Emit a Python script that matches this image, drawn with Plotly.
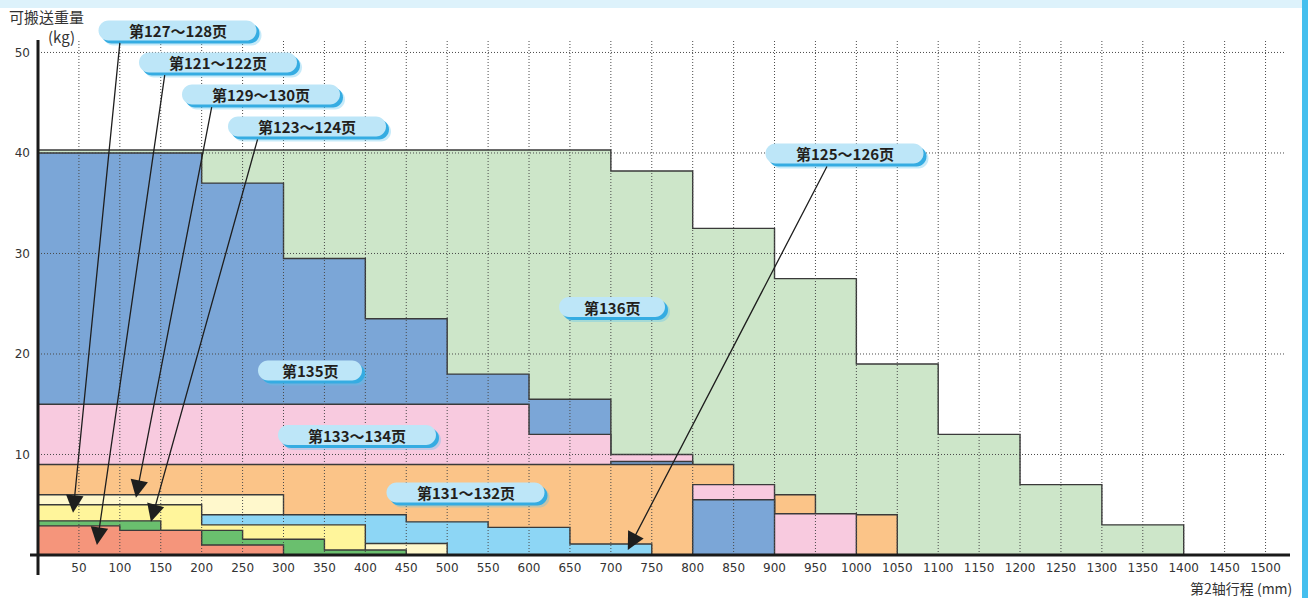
import plotly.graph_objects as go

# ---------------- data (stroke in mm, payload in kg) ----------------
x_ticks = [50, 100, 150, 200, 250, 300, 350, 400, 450, 500, 550, 600, 650, 700, 750,
           800, 850, 900, 950, 1000, 1050, 1100, 1150, 1200, 1250, 1300, 1350, 1400, 1450, 1500]
y_ticks = [10, 20, 30, 40, 50]

p136_edges = [0, 700, 800, 900, 1000, 1100, 1200, 1300, 1400]
p136_kg = [40.3, 38.2, 32.5, 27.5, 19, 12, 7, 3]

p135_edges = [0, 200, 300, 400, 500, 600, 700]
p135_kg = [40, 37, 29.5, 23.5, 18, 15.5]
p135_tail_edges = [700, 800]
p135_tail_kg = [9.3]
p135_tail2_edges = [800, 900]
p135_tail2_kg = [5.5]

p133_edges = [0, 600, 700, 800]
p133_kg = [15, 12, 10]
p133_tail_edges = [800, 900, 1000]
p133_tail_kg = [7, 4.1]

p131_edges = [0, 850]
p131_kg = [9]
p131_tail_edges = [900, 950, 1050]
p131_tail_kg = [6, 4]

p125_edges = [0, 450, 550, 650, 750]
p125_kg = [4.0, 3.3, 2.75, 1.1]

p129_edges = [0, 300]
p129_kg = [6.0]
p129_tail_edges = [300, 500]
p129_tail_kg = [1.15]

p127_edges = [0, 200, 400]
p127_kg = [5.0, 3.0]

p123_edges = [0, 150, 250, 350, 450]
p123_kg = [3.4, 2.45, 1.56, 0.5]

p121_edges = [0, 100, 200, 300]
p121_kg = [2.9, 2.45, 1.0]

# ---------------- style ----------------
C136 = "#cde6c9"
C135 = "#7ba6d7"
C133 = "#f8cadf"
C131 = "#fbc488"
C125 = "#8dd6f5"
C129 = "#fff8cc"
C127 = "#fff59b"
C123 = "#6abf6e"
C121 = "#f5957b"
EDGE = "#3a3a3a"

# layout geometry in pixels
L, R, T, B = 38, 22, 40, 43
W = 1308 - L - R
H = 598 - T - B
XMAX = 1525
YMAX = 51.24


def step_poly(edges, heights):
    xs = [edges[0]]
    ys = [0]
    for i, h in enumerate(heights):
        xs += [edges[i], edges[i + 1]]
        ys += [h, h]
    xs += [edges[-1], edges[0]]
    ys += [0, 0]
    return xs, ys


fig = go.Figure()

layers = [
    (p136_edges, p136_kg, C136),
    (p135_edges, p135_kg, C135),
    (p133_edges, p133_kg, C133),
    (p135_tail_edges, p135_tail_kg, C135),
    (p131_edges, p131_kg, C131),
    (p131_tail_edges, p131_tail_kg, C131),
    (p133_tail_edges, p133_tail_kg, C133),
    (p135_tail2_edges, p135_tail2_kg, C135),
    (p129_edges, p129_kg, C129),
    (p125_edges, p125_kg, C125),
    (p129_tail_edges, p129_tail_kg, C129),
    (p127_edges, p127_kg, C127),
    (p123_edges, p123_kg, C123),
    (p121_edges, p121_kg, C121),
]
for edges, kg, col in layers:
    xs, ys = step_poly(edges, kg)
    fig.add_trace(go.Scatter(x=xs, y=ys, mode="lines", fill="toself", fillcolor=col,
                             line=dict(color=EDGE, width=1.4), hoverinfo="skip",
                             showlegend=False))

shapes = []
# dotted grid above the fills
GRID = dict(color="#4a4a4a", width=1, dash="1px,2px")
for xv in x_ticks:
    shapes.append(dict(type="line", xref="x", yref="paper", x0=xv, x1=xv, y0=0, y1=1,
                       line=GRID, layer="above"))
for yv in y_ticks:
    shapes.append(dict(type="line", xref="paper", yref="y", x0=0, x1=0.999, y0=yv, y1=yv,
                       line=GRID, layer="above"))


def px2paper(px, py):
    return (px - L) / W, (598 - B - py) / H


def pill_path(cx, cy, w, h):
    r = h / 2.0
    k = 0.5523 * r
    x0 = cx - w / 2 + r
    x1 = cx + w / 2 - r
    top, bot = cy - h / 2, cy + h / 2
    pts = [
        ("M", [(x0, top)]),
        ("L", [(x1, top)]),
        ("C", [(x1 + k, top), (x1 + r, cy - k), (x1 + r, cy)]),
        ("C", [(x1 + r, cy + k), (x1 + k, bot), (x1, bot)]),
        ("L", [(x0, bot)]),
        ("C", [(x0 - k, bot), (x0 - r, cy + k), (x0 - r, cy)]),
        ("C", [(x0 - r, cy - k), (x0 - k, top), (x0, top)]),
    ]
    s = ""
    for cmd, pl in pts:
        s += cmd + " " + " ".join("%.5f,%.5f" % px2paper(a, b) for a, b in pl) + " "
    return s + "Z"


# label pills (centre px, width px, text)
labels = [
    (177.5, 30.5, 158, "第127～128页"),
    (218, 62.5, 158, "第121～122页"),
    (261, 94.5, 158, "第129～130页"),
    (307, 126.5, 158, "第123～124页"),
    (844.5, 153.5, 158, "第125～126页"),
    (612, 307, 106, "第136页"),
    (310, 370.5, 104, "第135页"),
    (357, 435, 158, "第133～134页"),
    (465.5, 492.5, 158, "第131～132页"),
]
PH = 20
for cx, cy, w, txt in labels:
    shapes.append(dict(type="path", xref="paper", yref="paper", path=pill_path(cx + 5, cy + 5, w, PH),
                       fillcolor="#5cc2ee", opacity=0.35, line=dict(width=0), layer="above"))
    shapes.append(dict(type="path", xref="paper", yref="paper", path=pill_path(cx + 3, cy + 3, w, PH),
                       fillcolor="#35ace2", line=dict(width=0), layer="above"))
    shapes.append(dict(type="path", xref="paper", yref="paper", path=pill_path(cx, cy, w, PH),
                       fillcolor="#bde6f8", line=dict(width=0), layer="above"))

# axes lines (thick black cross)
shapes.append(dict(type="line", xref="paper", yref="paper", x0=0, x1=0, y0=-20 / H, y1=1,
                   line=dict(color="#1a1a1a", width=3), layer="above"))
shapes.append(dict(type="line", xref="paper", yref="paper", x0=-8 / W, x1=(1290 - L) / W, y0=0, y1=0,
                   line=dict(color="#1a1a1a", width=3), layer="above"))
# page decorations: top band and right bar
bx0, by0 = px2paper(0, 8)
bx1, by1 = px2paper(1308, 0)
shapes.append(dict(type="rect", xref="paper", yref="paper", x0=bx0, x1=bx1, y0=by0, y1=by1,
                   fillcolor="#ddf2fb", line=dict(width=0), layer="above"))
rx0, ry0 = px2paper(1302, 598)
rx1, ry1 = px2paper(1308, 0)
shapes.append(dict(type="rect", xref="paper", yref="paper", x0=rx0, x1=rx1, y0=ry0, y1=ry1,
                   fillcolor="#45bfee", line=dict(width=0), layer="above"))

annotations = []
for cx, cy, w, txt in labels:
    ax_, ay_ = px2paper(cx, cy)
    annotations.append(dict(xref="paper", yref="paper", x=ax_, y=ay_, text="<b>" + txt + "</b>",
                            showarrow=False, xanchor="center", yanchor="middle",
                            font=dict(family="Noto Sans CJK SC", size=15, color="#231f1c")))

# leader arrows: (tail mm, tail kg, tip mm, tip kg)
arrow_tail_mm = [100.2, 155.1, 212.6, 268.8, 965.0]
arrow_tail_kg = [51.1, 47.9, 44.7, 41.5, 38.8]
arrow_tip_mm = [42.8, 72.0, 119.7, 138.0, 720.7]
arrow_tip_kg = [4.2, 1.0, 5.7, 3.3, 0.5]
for tx, ty, hx, hy in zip(arrow_tail_mm, arrow_tail_kg, arrow_tip_mm, arrow_tip_kg):
    annotations.append(dict(xref="x", yref="y", axref="x", ayref="y", x=hx, y=hy, ax=tx, ay=ty,
                            text="", showarrow=True, arrowhead=2, arrowsize=2.7, arrowwidth=1.3,
                            arrowcolor="#1e1e1e", standoff=0, startstandoff=0))

# axis titles
tx, ty = px2paper(7, 16)
annotations.append(dict(xref="paper", yref="paper", x=tx, y=ty, text="可搬送重量", showarrow=False,
                        xanchor="left", yanchor="middle",
                        font=dict(family="Noto Sans CJK SC", size=15, color="#333333")))
tx, ty = px2paper(61, 36)
annotations.append(dict(xref="paper", yref="paper", x=tx, y=ty, text="(kg)", showarrow=False,
                        xanchor="center", yanchor="middle",
                        font=dict(family="Noto Sans CJK SC", size=15, color="#333333")))
tx, ty = px2paper(1294, 588)
annotations.append(dict(xref="paper", yref="paper", x=tx, y=ty, text="第2轴行程 (mm)", showarrow=False,
                        xanchor="right", yanchor="middle",
                        font=dict(family="Noto Sans CJK SC", size=14, color="#333333")))

fig.update_layout(
    width=1308, height=598,
    margin=dict(l=L, r=R, t=T, b=B, autoexpand=False),
    paper_bgcolor="white", plot_bgcolor="white",
    shapes=shapes, annotations=annotations,
    xaxis=dict(range=[0, XMAX], showgrid=False, zeroline=False, showline=False,
               tickmode="array", tickvals=x_ticks, ticktext=[str(v) for v in x_ticks],
               tickfont=dict(family="DejaVu Sans", size=12, color="#333333"),
               ticks="", ticklabelstandoff=4, automargin=False, fixedrange=True),
    yaxis=dict(range=[0, YMAX], showgrid=False, zeroline=False, showline=False,
               tickmode="array", tickvals=y_ticks, ticktext=[str(v) for v in y_ticks],
               tickfont=dict(family="DejaVu Sans", size=12, color="#333333"),
               ticks="", ticklabelstandoff=7, automargin=False, fixedrange=True),
    showlegend=False,
)

fig.write_html("out.html", config={"displayModeBar": False},
               post_script="document.body.style.margin='0px';")
